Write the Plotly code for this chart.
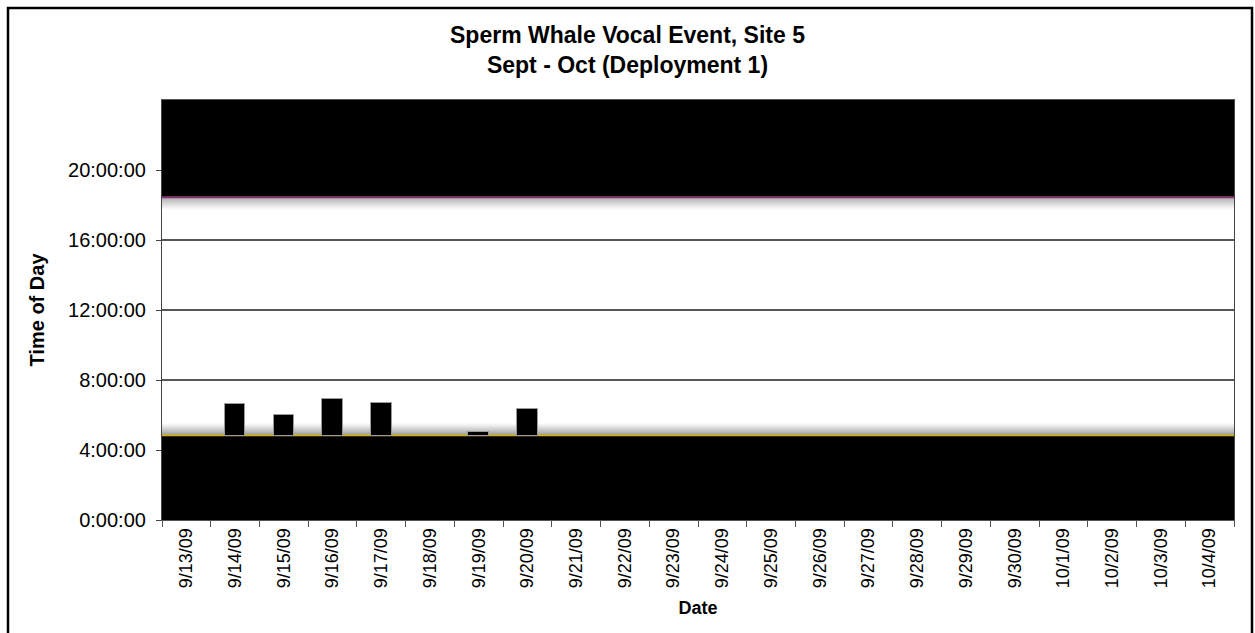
import plotly.graph_objects as go

# Deployment dates (one category per day)
dates = [
    "9/13/09", "9/14/09", "9/15/09", "9/16/09", "9/17/09", "9/18/09",
    "9/19/09", "9/20/09", "9/21/09", "9/22/09", "9/23/09", "9/24/09",
    "9/25/09", "9/26/09", "9/27/09", "9/28/09", "9/29/09", "9/30/09",
    "10/1/09", "10/2/09", "10/3/09", "10/4/09",
]

# Time of the vocal event on each day (None = no event)
event_times = [
    None, "6:37", "5:59", "6:54", "6:40", None,
    "5:01", "6:22", None, None, None, None,
    None, None, None, None, None, None,
    None, None, None, None,
]

# Night boundaries (sunrise / sunset)
sunrise_time = "4:48"
sunset_time = "18:28"

y_tick_hours = [0, 4, 8, 12, 16, 20]
y_tick_labels = ["0:00:00", "4:00:00", "8:00:00", "12:00:00", "16:00:00", "20:00:00"]


def to_hours(t):
    h, m = t.split(":")
    return int(h) + int(m) / 60.0


sunrise = to_hours(sunrise_time)
sunset = to_hours(sunset_time)
DAY = 24.0

FONT = "Liberation Sans, Arial, sans-serif"

fig = go.Figure()

# Event bars rise from sunrise up to the event time
fig.add_trace(go.Bar(
    x=dates,
    y=[to_hours(t) - sunrise if t else None for t in event_times],
    base=sunrise,
    width=0.42,
    marker=dict(color="black", line=dict(color="#9a9a9a", width=1)),
    hoverinfo="x+y",
    showlegend=False,
))

shapes = []

# Horizontal gridlines at each labelled hour (drawn first so the night bands cover them)
for h in y_tick_hours:
    shapes.append(dict(type="line", xref="paper", yref="y", x0=0, x1=1,
                       y0=h, y1=h, line=dict(color="#1e1e1e", width=1.3),
                       layer="below"))

# Night bands
shapes.append(dict(type="rect", xref="paper", yref="y", x0=0, x1=1,
                   y0=0, y1=sunrise, fillcolor="black", line_width=0,
                   layer="below"))
shapes.append(dict(type="rect", xref="paper", yref="y", x0=0, x1=1,
                   y0=sunset, y1=DAY, fillcolor="black", line_width=0,
                   layer="below"))

# Soft twilight shading beside each band
px = DAY / 420.0
steps = 13
for i in range(steps):
    a = 0.6 * (1 - i / steps) ** 1.2
    shapes.append(dict(type="rect", xref="paper", yref="y", x0=0, x1=1,
                       y0=sunrise + i * px, y1=sunrise + (i + 1) * px,
                       fillcolor=f"rgba(80,80,80,{a:.3f})", line_width=0,
                       layer="below"))
    shapes.append(dict(type="rect", xref="paper", yref="y", x0=0, x1=1,
                       y0=sunset - (i + 1) * px, y1=sunset - i * px,
                       fillcolor=f"rgba(80,80,80,{a * 0.85:.3f})", line_width=0,
                       layer="below"))

# Coloured edges of the night bands
shapes.append(dict(type="line", xref="paper", yref="y", x0=0, x1=1,
                   y0=sunrise + px * 0.5, y1=sunrise + px * 0.5,
                   line=dict(color="#d9b400", width=1.6), layer="below"))
shapes.append(dict(type="line", xref="paper", yref="y", x0=0, x1=1,
                   y0=sunset - px * 0.5, y1=sunset - px * 0.5,
                   line=dict(color="#8a2a78", width=1.6), layer="below"))

# Outer chart frame
L, R, T, B = 162, 1234, 100, 520
W, H = R - L, B - T
shapes.append(dict(type="rect", xref="paper", yref="paper",
                   x0=(8 - L) / W, x1=(1252 - L) / W,
                   y0=(B - 660) / H, y1=(B - 8) / H,
                   line=dict(color="black", width=2.5), layer="above"))

fig.update_layout(
    width=1255, height=633,
    margin=dict(l=L, r=1255 - R, t=T, b=633 - B),
    paper_bgcolor="white",
    plot_bgcolor="white",
    shapes=shapes,
    bargap=0,
    title=dict(
        text="<b>Sperm Whale Vocal Event, Site 5<br>Sept - Oct (Deployment 1)</b>",
        font=dict(family=FONT, size=23, color="black"),
        x=0.5, xref="container", xanchor="center",
        y=1 - 43 / 633, yref="container", yanchor="middle",
    ),
    xaxis=dict(
        type="category",
        tickangle=-90,
        tickfont=dict(family=FONT, size=18, color="black"),
        ticks="outside", ticklen=6, tickcolor="#555",
        tickson="boundaries",
        showgrid=False,
        showline=True, linecolor="#555", linewidth=1, mirror=True,
        title=dict(text="<b>Date</b>", font=dict(family=FONT, size=18, color="black"),
                   standoff=14),
        range=[-0.5, len(dates) - 0.5],
        fixedrange=True,
    ),
    yaxis=dict(
        range=[0, DAY],
        tickvals=y_tick_hours,
        ticktext=y_tick_labels,
        tickfont=dict(family=FONT, size=20, color="black"),
        ticks="outside", ticklen=5, tickcolor="#444",
        ticklabelstandoff=6,
        showgrid=False,
        zeroline=False,
        showline=True, linecolor="#444", linewidth=1.2, mirror=True,
        title=dict(text="<b>Time of Day</b>", font=dict(family=FONT, size=20, color="black"),
                   standoff=18),
        fixedrange=True,
    ),
)

fig.write_html("out.html")
